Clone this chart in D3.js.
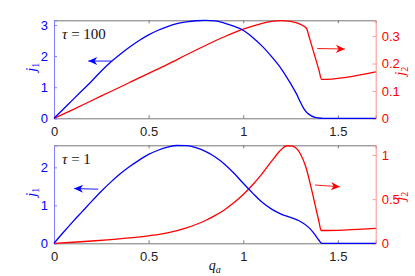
<!DOCTYPE html>
<html>
<head>
<meta charset="utf-8">
<script src="https://cdn.jsdelivr.net/npm/d3@7"></script>
<style>
  body { margin: 0; background: #fff; }
  .tick text { font-family: "Liberation Sans", Arial, sans-serif; }
  .math { font-family: "Liberation Serif", "DejaVu Serif", serif; }
</style>
</head>
<body>
<svg id="chart" width="415" height="276"></svg>
<script>
// shared x axis ticks
var xTicks = [0, 0.5, 1, 1.5];

// tau = 100 panel
var q1Top = [0, 0.05, 0.1, 0.15, 0.2, 0.25, 0.3, 0.35, 0.4, 0.45, 0.5, 0.55, 0.6, 0.65, 0.7, 0.75, 0.8, 0.85, 0.9, 0.95, 1.0, 1.05, 1.1, 1.15, 1.2, 1.25, 1.28, 1.3, 1.32, 1.34, 1.36, 1.38, 1.4, 1.42, 1.7];
var j1Top = [0, 0.30, 0.60, 0.90, 1.20, 1.52, 1.81, 2.06, 2.29, 2.50, 2.68, 2.83, 2.95, 3.04, 3.10, 3.135, 3.145, 3.13, 3.06, 2.96, 2.83, 2.60, 2.32, 1.98, 1.60, 1.12, 0.80, 0.55, 0.31, 0.16, 0.08, 0.03, 0.01, 0, 0];
var q2Top = [0, 0.1, 0.2, 0.3, 0.4, 0.5, 0.6, 0.7, 0.8, 0.9, 1.0, 1.05, 1.1, 1.15, 1.2, 1.25, 1.3, 1.335, 1.345, 1.36, 1.40, 1.414, 1.7];
var j2Top = [0, 0.032, 0.065, 0.098, 0.131, 0.164, 0.197, 0.232, 0.266, 0.298, 0.326, 0.337, 0.347, 0.354, 0.357, 0.354, 0.344, 0.328, 0.305, 0.27, 0.176, 0.142, 0.170];
var leftTicksTop = [0, 1, 2, 3];
var rightTicksTop = [0, 0.1, 0.2, 0.3];

// tau = 1 panel
var q1Bot = [0, 0.05, 0.1, 0.15, 0.2, 0.25, 0.3, 0.35, 0.4, 0.45, 0.5, 0.55, 0.6, 0.65, 0.7, 0.75, 0.8, 0.85, 0.9, 0.95, 1.0, 1.05, 1.1, 1.15, 1.2, 1.25, 1.3, 1.35, 1.38, 1.4, 1.415, 1.7];
var j1Bot = [0, 0.29, 0.57, 0.84, 1.11, 1.37, 1.61, 1.83, 2.02, 2.19, 2.34, 2.45, 2.53, 2.575, 2.57, 2.52, 2.42, 2.28, 2.09, 1.85, 1.58, 1.32, 1.08, 0.90, 0.77, 0.68, 0.58, 0.40, 0.22, 0.08, 0, 0];
var q2Bot = [0, 0.1, 0.2, 0.3, 0.4, 0.5, 0.6, 0.7, 0.75, 0.8, 0.85, 0.9, 0.95, 1.0, 1.05, 1.1, 1.15, 1.2, 1.23, 1.26, 1.3, 1.33, 1.36, 1.39, 1.40, 1.412, 1.7];
var j2Bot = [0, 0.012, 0.026, 0.042, 0.061, 0.085, 0.118, 0.175, 0.213, 0.258, 0.313, 0.378, 0.458, 0.553, 0.663, 0.79, 0.93, 1.06, 1.105, 1.10, 1.02, 0.87, 0.62, 0.34, 0.247, 0.145, 0.17];
var leftTicksBot = [0, 1, 2];
var rightTicksBot = [0, 0.5, 1];

var svg = d3.select("#chart");
var blue = "#0000ff", red = "#ff0000";
var left = 54, right = 375.7;

var x = d3.scaleLinear().domain([0, 1.7]).range([left, right]);

var panels = [
    { top: 20.3, bottom: 118.3, q1: q1Top, j1: j1Top, q2: q2Top, j2: j2Top,
      yMax1: 3.15, yMax2: 0.358, lt: leftTicksTop, rt: rightTicksTop, tau: "100",
      blueArrow: [[0.305, 1.84], [0.181, 1.84]], redArrow: [[1.391, 0.255], [1.537, 0.253]] },
    { top: 145.3, bottom: 243.3, q1: q1Bot, j1: j1Bot, q2: q2Bot, j2: j2Bot,
      yMax1: 2.58, yMax2: 1.11, lt: leftTicksBot, rt: rightTicksBot, tau: "1",
      blueArrow: [[0.234, 1.425], [0.106, 1.44]], redArrow: [[1.379, 0.66], [1.511, 0.64]] }
];

svg.append("defs").selectAll("marker")
    .data([["headBlue", blue], ["headRed", red]])
    .enter().append("marker")
    .attr("id", function (d) { return d[0]; })
    .attr("viewBox", "0 -5 10 10")
    .attr("refX", 10).attr("refY", 0)
    .attr("markerUnits", "userSpaceOnUse")
    .attr("markerWidth", 10).attr("markerHeight", 9)
    .attr("orient", "auto")
    .append("path")
    .attr("d", "M0,-4.5L10,0L0,4.5L3,0Z")
    .attr("fill", function (d) { return d[1]; });

panels.forEach(function (p) {
    var yL = d3.scaleLinear().domain([0, p.yMax1]).range([p.bottom, p.top]);
    var yR = d3.scaleLinear().domain([0, p.yMax2]).range([p.bottom, p.top]);
    var g = svg.append("g");

    // bottom and top x axes, ticks pointing inward
    g.append("g")
        .attr("transform", "translate(0," + p.bottom + ")")
        .call(d3.axisBottom(x).tickValues(xTicks).tickSize(-3).tickPadding(8)
            .tickFormat(d3.format("")))
        .call(function (a) {
            a.select(".domain").attr("stroke", "#777");
            a.selectAll(".tick line").attr("stroke", "#777");
            a.selectAll(".tick text").attr("font-size", 13).attr("fill", "#222");
        });
    g.append("g")
        .attr("transform", "translate(0," + p.top + ")")
        .call(d3.axisTop(x).tickValues(xTicks).tickSize(-3).tickFormat(""))
        .call(function (a) {
            a.select(".domain").attr("stroke", "#777");
            a.selectAll(".tick line").attr("stroke", "#777");
        });

    // left axis (j1)
    g.append("g")
        .attr("transform", "translate(" + left + ",0)")
        .call(d3.axisLeft(yL).tickValues(p.lt).tickSize(-3).tickPadding(6)
            .tickFormat(d3.format("")))
        .call(function (a) {
            a.select(".domain").attr("stroke", "#8080ff");
            a.selectAll(".tick line").attr("stroke", "#8080ff");
            a.selectAll(".tick text").attr("font-size", 13).attr("fill", blue);
        });

    // right axis (j2)
    g.append("g")
        .attr("transform", "translate(" + right + ",0)")
        .call(d3.axisRight(yR).tickValues(p.rt).tickSize(-3).tickPadding(6)
            .tickFormat(d3.format("")))
        .call(function (a) {
            a.select(".domain").attr("stroke", "#ff9090");
            a.selectAll(".tick line").attr("stroke", "#ff9090");
            a.selectAll(".tick text").attr("font-size", 13).attr("fill", red);
        });

    var line1 = d3.line()
        .curve(d3.curveMonotoneX)
        .x(function (d) { return x(d[0]); })
        .y(function (d) { return yL(d[1]); });
    var line2 = d3.line()
        .curve(d3.curveMonotoneX)
        .x(function (d) { return x(d[0]); })
        .y(function (d) { return yR(d[1]); });
    var straight1 = d3.line()
        .x(function (d) { return x(d[0]); })
        .y(function (d) { return yL(d[1]); });
    var straight2 = d3.line()
        .x(function (d) { return x(d[0]); })
        .y(function (d) { return yR(d[1]); });

    g.append("path")
        .datum(d3.zip(p.q2, p.j2))
        .attr("d", line2)
        .attr("fill", "none").attr("stroke", red).attr("stroke-width", 1.3);
    g.append("path")
        .datum(d3.zip(p.q1, p.j1))
        .attr("d", line1)
        .attr("fill", "none").attr("stroke", blue).attr("stroke-width", 1.3);

    // arrows pointing to their axes
    g.append("path")
        .datum(p.blueArrow)
        .attr("d", straight1)
        .attr("stroke", blue).attr("stroke-width", 0.9)
        .attr("marker-end", "url(#headBlue)");
    g.append("path")
        .datum(p.redArrow)
        .attr("d", straight2)
        .attr("stroke", red).attr("stroke-width", 0.9)
        .attr("marker-end", "url(#headRed)");

    // tau label
    var t = g.append("text").attr("class", "math")
        .attr("x", left + 8).attr("y", p.top + 19)
        .attr("font-size", 15).attr("fill", "#111");
    t.append("tspan").attr("font-style", "italic").text("τ");
    t.append("tspan").text(" = " + p.tau);

    // axis titles
    var mid = (p.top + p.bottom) / 2;
    var l1 = g.append("text").attr("class", "math")
        .attr("transform", "translate(" + 36 + "," + (mid - 2) + ") rotate(-90)")
        .attr("text-anchor", "middle").attr("font-size", 14).attr("fill", blue);
    l1.append("tspan").attr("font-style", "italic").text("j");
    l1.append("tspan").attr("font-size", 10).attr("dy", 3).text("1");
    var l2 = g.append("text").attr("class", "math")
        .attr("transform", "translate(" + 405 + "," + (mid + 2) + ") rotate(-90)")
        .attr("text-anchor", "middle").attr("font-size", 14).attr("fill", red);
    l2.append("tspan").attr("font-style", "italic").text("j");
    l2.append("tspan").attr("font-size", 10).attr("dy", 3).text("2");
});

// shared x label
var xl = svg.append("text").attr("class", "math")
    .attr("x", (left + right) / 2).attr("y", 270)
    .attr("text-anchor", "middle").attr("font-size", 14).attr("fill", "#111");
xl.append("tspan").attr("font-style", "italic").text("q");
xl.append("tspan").attr("font-style", "italic").attr("font-size", 10).attr("dy", 3).text("a");
</script>
</body>
</html>
